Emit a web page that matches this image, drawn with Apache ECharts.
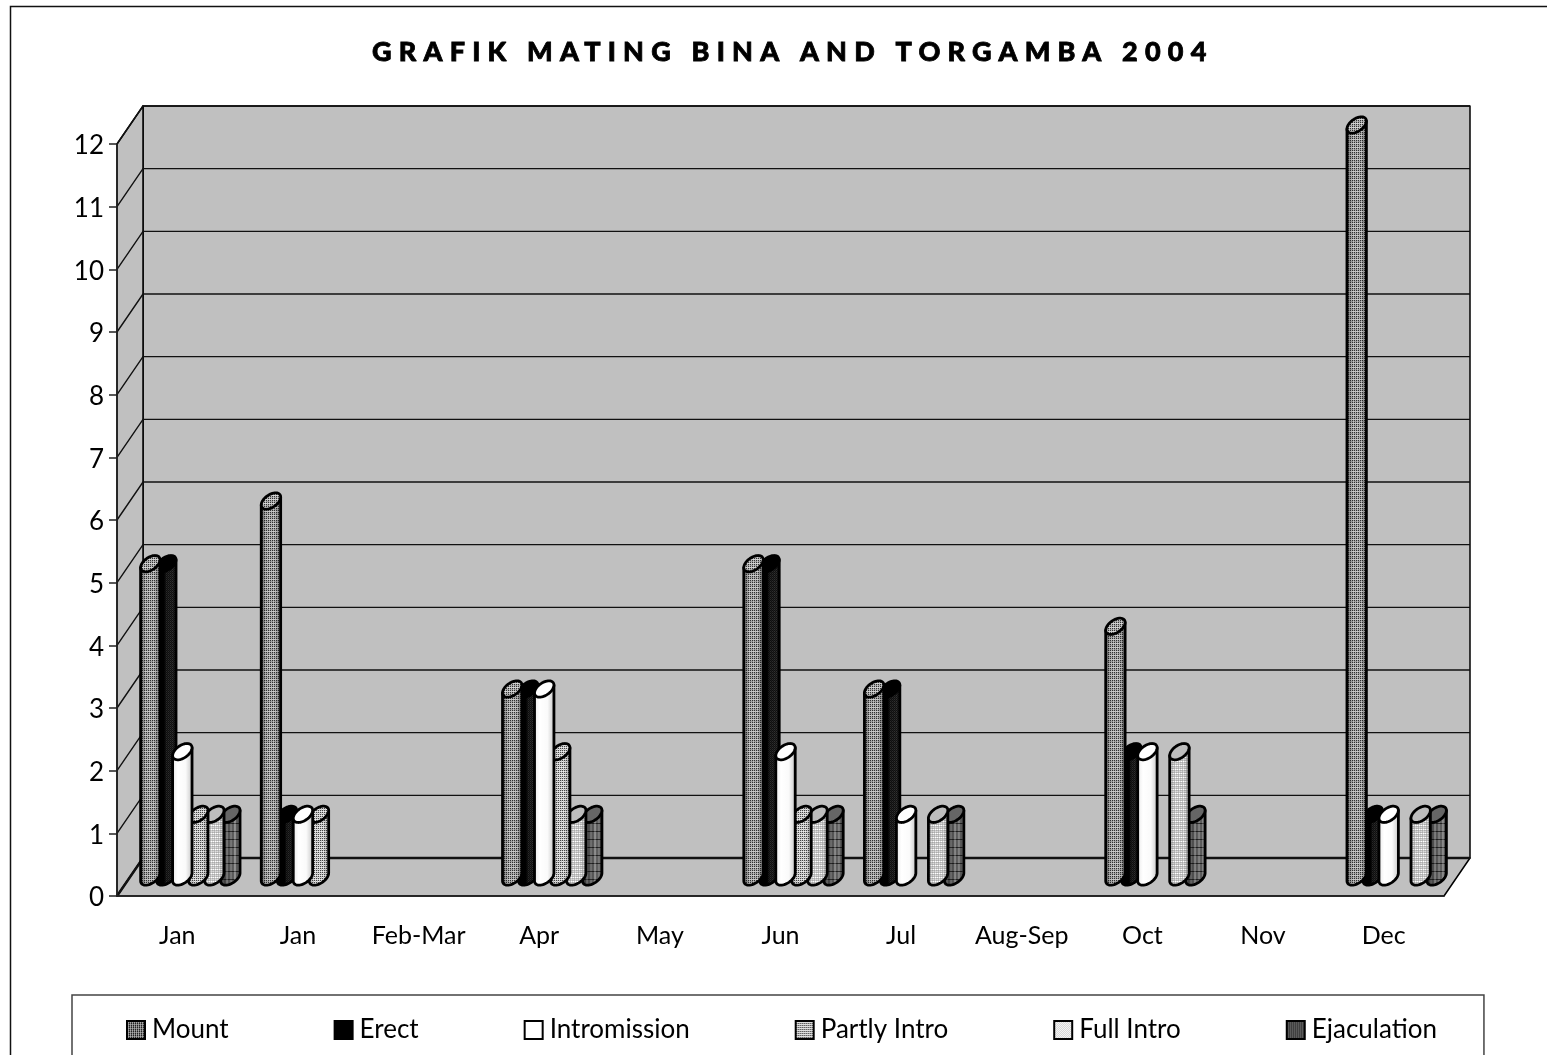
<!DOCTYPE html>
<html>
<head>
<meta charset="utf-8">
<title>Grafik Mating</title>
<style>
  html, body { margin: 0; padding: 0; background: #fff; overflow: hidden; }
  #chart { width: 1547px; height: 1055px; }
</style>
<script src="https://cdn.jsdelivr.net/npm/echarts@6/dist/echarts.min.js"></script>
</head>
<body>
<div id="chart"></div>
<script>
const titleText = 'GRAFIK MATING BINA AND TORGAMBA 2004'
const categories = ['Jan', 'Jan', 'Feb-Mar', 'Apr', 'May', 'Jun', 'Jul', 'Aug-Sep', 'Oct', 'Nov', 'Dec']
const yTicks = [0, 1, 2, 3, 4, 5, 6, 7, 8, 9, 10, 11, 12]

const mount = [5, 6, 0, 3, 0, 5, 3, 0, 4, 0, 12]
const erect = [5, 1, 0, 3, 0, 5, 3, 0, 2, 0, 1]
const intromission = [2, 1, 0, 3, 0, 2, 1, 0, 2, 0, 1]
const partlyIntro = [1, 1, 0, 2, 0, 1, 0, 0, 0, 0, 0]
const fullIntro = [1, 0, 0, 1, 0, 1, 1, 0, 2, 0, 1]
const ejaculation = [1, 0, 0, 1, 0, 1, 1, 0, 1, 0, 1]

// depth of the fake 3d box, in pixels
const depthX = 26
const depthY = -38
const barStep = 16

// rows of grey levels, one hex digit per pixel
function tile(rows) {
    const c = document.createElement('canvas')
    c.width = rows[0].length
    c.height = rows.length
    const ctx = c.getContext('2d')
    rows.forEach((row, y) => {
        row.split('').forEach((d, x) => {
            const v = parseInt(d, 16) * 17
            ctx.fillStyle = 'rgb(' + v + ',' + v + ',' + v + ')'
            ctx.fillRect(x, y, 1, 1)
        })
    })
    return {image: c, repeat: 'repeat'}
}

function shade(stops) {
    return {
        type: 'linear', x: 0, y: 0, x2: 1, y2: 0,
        colorStops: stops.map(s => ({offset: s[0], color: 'rgba(0,0,0,' + s[1] + ')'}))
    }
}

const mountFill = tile(['3a3b', '9c9a', '3a3b', 'cdcc'])
const partlyFill = tile(['4b4c', 'dcec', '4b4c', 'cece'])
const ejaculationFill = tile(['66996688', '66996688', '66996688', '66996688', '66996688', '66996688', '66996688', '22552233'])

const looks = [
    {name: 'Mount', values: mount, z: 7,
     fill: mountFill, capFill: mountFill,
     shade: shade([[0, 0.6], [0.3, 0.05], [0.7, 0.05], [1, 0.55]]),
     swatch: tile(['2828', '5a5a', '2828', '7a7a'])},
    {name: 'Erect', values: erect, z: 5,
     fill: tile(['1212', '3131']), capFill: '#000',
     shade: shade([[0, 1], [0.4, 1], [0.5, 0.2], [0.8, 0], [1, 0.7]]),
     swatch: '#000'},
    {name: 'Intromission', values: intromission, z: 6,
     fill: '#fff', capFill: '#fff',
     shade: shade([[0, 0.1], [0.3, 0], [0.65, 0.02], [1, 0.25]]),
     swatch: '#fff'},
    {name: 'Partly Intro', values: partlyIntro, z: 4,
     fill: partlyFill, capFill: partlyFill,
     shade: shade([[0, 0.25], [0.3, 0], [0.7, 0], [1, 0.3]]),
     swatch: tile(['3c3c', 'dddd', '3c3c', 'dddd'])},
    {name: 'Full Intro', values: fullIntro, z: 3,
     fill: tile(['abac', 'dfcf', 'abac', 'cdbd']), capFill: '#bdbdbd',
     shade: shade([[0, 0.22], [0.3, 0], [0.7, 0], [1, 0.28]]),
     swatch: tile(['cfcf', 'fcfc'])},
    {name: 'Ejaculation', values: ejaculation, z: 2,
     fill: ejaculationFill, capFill: '#666',
     shade: shade([[0, 0.6], [0.35, 0.25], [0.7, 0.05], [1, 0.3]]),
     swatch: tile(['3636', '3636'])}
]

// tilted ellipse used for the cylinder caps and feet, sampled to a polygon
const capRx = 11
const capRy = 6.3
const capTilt = 35 * Math.PI / 180
function capPoint(cx, cy, t) {
    const ex = capRx * Math.cos(t)
    const ey = capRy * Math.sin(t)
    return [cx + ex * Math.cos(capTilt) + ey * Math.sin(capTilt),
            cy - ex * Math.sin(capTilt) + ey * Math.cos(capTilt)]
}
function capPolygon(cx, cy) {
    const pts = []
    for (let i = 0; i < 48; i++) pts.push(capPoint(cx, cy, i / 48 * 2 * Math.PI))
    return pts
}

// parameters where the ellipse has a vertical tangent
const rightT = Math.atan(capRy / capRx * Math.tan(capTilt))
const leftT = rightT + Math.PI

function bodyPolygon(cx, topY, footY) {
    const pts = [capPoint(cx, topY, leftT)]
    // foot: lower half of the ellipse, left tangent round to right tangent
    for (let i = 0; i <= 24; i++) {
        pts.push(capPoint(cx, footY, leftT - i / 24 * Math.PI))
    }
    pts.push(capPoint(cx, topY, rightT))
    return pts
}

function barSeries(look, index) {
    return {
        name: look.name,
        type: 'custom',
        coordinateSystem: 'cartesian2d',
        z: look.z,
        silent: true,
        itemStyle: {color: look.swatch, borderColor: '#000', borderWidth: 2.5},
        encode: {x: 0, y: 1},
        data: look.values.map((v, i) => [i, v]),
        renderItem: function (params, api) {
            const v = api.value(1)
            if (!v) return {type: 'group', children: []}
            const base = api.coord([api.value(0), 0])
            const top = api.coord([api.value(0), v])
            const cx = base[0] + depthX / 2 + (index - 2.5) * barStep
            const footY = base[1] + depthY / 2
            const topY = top[1] + depthY / 2
            const body = bodyPolygon(cx, topY, footY)
            const cap = capPolygon(cx, topY)
            return {
                type: 'group',
                children: [
                    {type: 'polygon', shape: {points: body}, style: {fill: look.fill}},
                    {type: 'polygon', shape: {points: body}, style: {fill: look.shade, stroke: '#000', lineWidth: 2.8, lineJoin: 'round'}},
                    {type: 'polygon', shape: {points: cap}, style: {fill: look.capFill, stroke: '#000', lineWidth: 2.8, lineJoin: 'round'}}
                ]
            }
        }
    }
}

const wallSeries = {
    type: 'custom',
    coordinateSystem: 'cartesian2d',
    z: 1,
    silent: true,
    encode: {y: 1},
    data: yTicks.map(t => [0, t]),
    renderItem: function (params, api) {
        const g = params.coordSys
        const tick = api.value(1)
        const y = api.coord([0, tick])[1]
        const x0 = g.x
        const x1 = g.x + g.width
        const y0 = g.y + g.height
        const children = []
        if (tick === 0) {
            const wallStyle = {fill: '#c0c0c0', stroke: '#000', lineWidth: 1.5, lineJoin: 'round'}
            children.push({type: 'polygon', style: wallStyle, shape: {points: [
                [x0 + depthX, g.y + depthY], [x1 + depthX, g.y + depthY], [x1 + depthX, y0 + depthY], [x0 + depthX, y0 + depthY]]}})
            children.push({type: 'polygon', style: wallStyle, shape: {points: [
                [x0, g.y], [x0 + depthX, g.y + depthY], [x0 + depthX, y0 + depthY], [x0, y0]]}})
            children.push({type: 'polygon', style: wallStyle, shape: {points: [
                [x0, y0], [x1, y0], [x1 + depthX, y0 + depthY], [x0 + depthX, y0 + depthY]]}})
        }
        const strong = tick === 0 ? 2.6 : 1.4
        children.push({type: 'polyline', shape: {points: [[x0, y], [x0 + depthX, y + depthY], [x1 + depthX, y + depthY]]},
            style: {fill: null, stroke: '#111', lineWidth: strong}})
        return {type: 'group', children: children}
    }
}

const chart = echarts.init(document.getElementById('chart'), null, {renderer: 'canvas'})

// canvas text has no letter spacing option, so the title sits on its own layer
chart.getZr().painter.getLayer(1).ctx.letterSpacing = '7.2px'

const option = {
    animation: false,
    backgroundColor: '#fff',
    textStyle: {fontFamily: 'Lato'},
    title: {
        text: titleText,
        left: 372,
        top: 39,
        padding: 0,
        zlevel: 1,
        textStyle: {fontFamily: 'Lato', fontSize: 27, fontWeight: 900, color: '#000', textBorderColor: '#000', textBorderWidth: 0.8}
    },
    grid: {left: 117, right: 103, top: 144, bottom: 159},
    xAxis: {
        type: 'category',
        data: categories,
        z: 10,
        axisLine: {lineStyle: {color: '#222', width: 1.5}},
        axisTick: {length: 12, lineStyle: {color: '#222', width: 1.5}},
        axisLabel: {margin: 27, fontFamily: 'Lato', fontSize: 25, color: '#000', interval: 0}
    },
    yAxis: {
        type: 'value',
        min: 0,
        max: 12,
        interval: 1,
        z: 10,
        splitLine: {show: false},
        axisLine: {show: true, lineStyle: {color: '#222', width: 1.5}},
        axisTick: {show: true, length: 8, lineStyle: {color: '#222', width: 1.5}},
        axisLabel: {margin: 13, verticalAlign: 'bottom', padding: [0, 0, -15, 0], fontFamily: 'Lato', fontSize: 26, color: '#000'}
    },
    legend: {
        left: 72,
        top: 995,
        selectedMode: false,
        orient: 'horizontal',
        itemWidth: 18,
        itemHeight: 18,
        itemGap: 105,
        padding: [22, 47, 60, 54],
        borderColor: '#444',
        borderWidth: 1.5,
        icon: 'rect',
        textStyle: {fontFamily: 'Lato', fontSize: 26, color: '#000', padding: [0, 0, 0, 2]},
        data: looks.map(l => l.name)
    },
    graphic: [{
        type: 'polyline',
        silent: true,
        shape: {points: [[10.5, 1055], [10.5, 6.5], [1547, 6.5]]},
        style: {fill: null, stroke: '#111', lineWidth: 1.5}
    }],
    series: [wallSeries].concat(looks.map(barSeries))
}

chart.setOption(option)
</script>
</body>
</html>
